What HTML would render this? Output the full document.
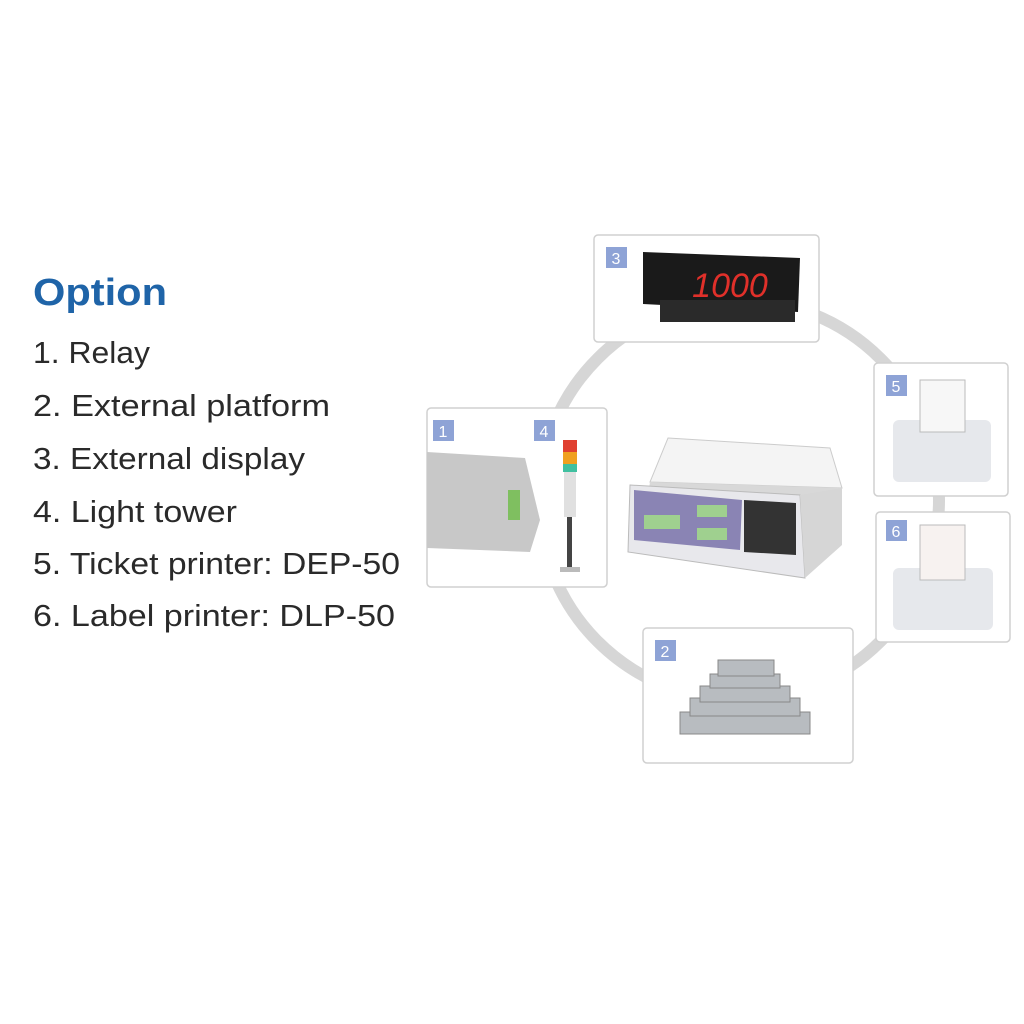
<!DOCTYPE html>
<html><head><meta charset="utf-8"><style>
html,body{margin:0;padding:0;background:#fff;}
svg{display:block;}
text{font-family:"Liberation Sans",sans-serif;}
</style></head><body>
<svg width="1024" height="1024" viewBox="0 0 1024 1024" xmlns="http://www.w3.org/2000/svg">
<rect width="1024" height="1024" fill="#fff"/>
<text x="33" y="305" font-size="38" font-weight="bold" fill="#1f64a8" textLength="134" lengthAdjust="spacingAndGlyphs">Option</text>
<g font-size="31" fill="#2a2a2a">
<text x="33" y="363" textLength="117" lengthAdjust="spacingAndGlyphs">1. Relay</text>
<text x="33" y="416" textLength="297" lengthAdjust="spacingAndGlyphs">2. External platform</text>
<text x="33" y="469" textLength="272" lengthAdjust="spacingAndGlyphs">3. External display</text>
<text x="33" y="522" textLength="204" lengthAdjust="spacingAndGlyphs">4. Light tower</text>
<text x="33" y="574" textLength="367" lengthAdjust="spacingAndGlyphs">5. Ticket printer: DEP-50</text>
<text x="33" y="626" textLength="362" lengthAdjust="spacingAndGlyphs">6. Label printer: DLP-50</text>
</g>
<circle cx="739" cy="500" r="200" fill="none" stroke="#d6d6d6" stroke-width="12"/>
<g fill="#fff" stroke="#d0d0d0" stroke-width="1.5">
<rect x="594" y="235" width="225" height="107" rx="4"/>
<rect x="427" y="408" width="180" height="179" rx="4"/>
<rect x="874" y="363" width="134" height="133" rx="4"/>
<rect x="876" y="512" width="134" height="130" rx="4"/>
<rect x="643" y="628" width="210" height="135" rx="4"/>
</g>
<g fill="#8ea3d6">
<rect x="606" y="247" width="21" height="21"/>
<rect x="433" y="420" width="21" height="21"/>
<rect x="534" y="420" width="21" height="21"/>
<rect x="886" y="375" width="21" height="21"/>
<rect x="886" y="520" width="21" height="21"/>
<rect x="655" y="640" width="21" height="21"/>
</g>
<g fill="#fff" font-size="16" text-anchor="middle">
<text x="616" y="264">3</text><text x="443" y="437">1</text><text x="544" y="437">4</text>
<text x="896" y="392">5</text><text x="896" y="537">6</text><text x="665" y="657">2</text>
</g>
<!-- display -->
<polygon points="643,252 800,258 798,312 643,304" fill="#1a1a1a"/>
<rect x="660" y="300" width="135" height="22" fill="#2a2a2a"/>
<text x="730" y="297" font-size="34" fill="#e0302a" text-anchor="middle" font-style="italic">1000</text>
<!-- relay -->
<polygon points="427,452 525,458 540,520 530,552 427,548" fill="#c8c8c8"/>
<rect x="508" y="490" width="12" height="30" fill="#7fbf60"/>
<!-- light tower -->
<rect x="563" y="440" width="14" height="12" fill="#e04030"/>
<rect x="563" y="452" width="14" height="12" fill="#f0a020"/>
<rect x="563" y="464" width="14" height="8" fill="#40c0a0"/>
<rect x="564" y="472" width="12" height="45" fill="#e0e0e0"/>
<rect x="567" y="517" width="5" height="50" fill="#444"/>
<rect x="560" y="567" width="20" height="5" fill="#bbb"/>
<!-- scale -->
<polygon points="668,438 830,448 842,488 650,482" fill="#f4f4f4" stroke="#ccc"/>
<polygon points="650,482 842,488 838,500 648,495" fill="#d8d8d8"/>
<polygon points="630,485 800,495 805,578 628,552" fill="#e8e8ec" stroke="#bbb"/>
<polygon points="800,495 842,488 842,545 805,578" fill="#d6d6d6"/>
<polygon points="634,490 742,500 740,550 634,540" fill="#8a84b4"/>
<rect x="644" y="515" width="36" height="14" fill="#9fd08f"/>
<rect x="697" y="505" width="30" height="12" fill="#9fd08f"/>
<rect x="697" y="528" width="30" height="12" fill="#9fd08f"/>
<polygon points="744,500 796,503 796,555 744,552" fill="#333"/>
<!-- printers -->
<rect x="893" y="420" width="98" height="62" rx="6" fill="#e6e8ec"/>
<rect x="920" y="380" width="45" height="52" fill="#f7f7f7" stroke="#bbb"/>
<rect x="893" y="568" width="100" height="62" rx="6" fill="#e6e8ec"/>
<rect x="920" y="525" width="45" height="55" fill="#f7f2f0" stroke="#bbb"/>
<!-- platforms -->
<g fill="#b8bcc0" stroke="#888">
<rect x="680" y="712" width="130" height="22"/>
<rect x="690" y="698" width="110" height="18"/>
<rect x="700" y="686" width="90" height="16"/>
<rect x="710" y="674" width="70" height="14"/>
<rect x="718" y="660" width="56" height="16"/>
</g>
</svg>
</body></html>
